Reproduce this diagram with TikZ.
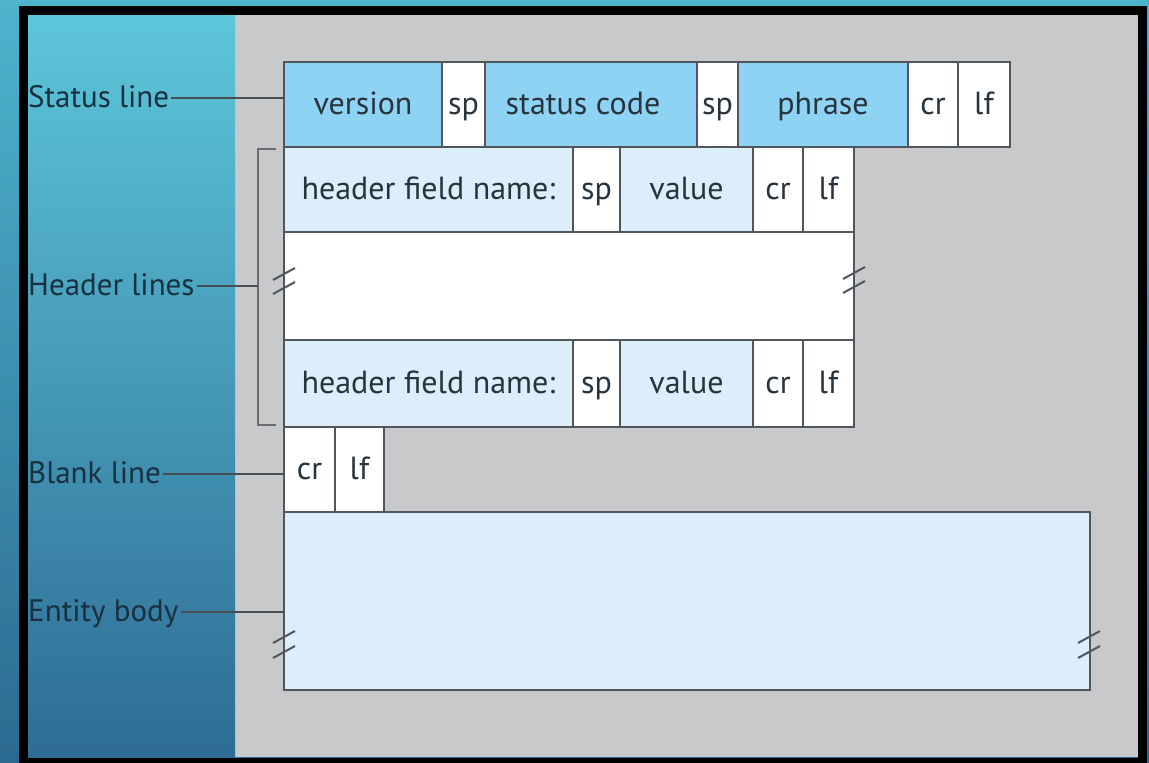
\documentclass[tikz,border=0pt]{standalone}
\usepackage{fontspec}
\setmainfont{PT Sans}
\definecolor{bgtop}{HTML}{4DB4CC}
\definecolor{bgbot}{HTML}{2C6A90}
\definecolor{pantop}{HTML}{5DC6DA}
\definecolor{panbot}{HTML}{2E6C94}
\definecolor{greybg}{HTML}{C8C9CB}
\definecolor{edge}{HTML}{50565B}
\definecolor{sblue}{HTML}{8ED3F4}
\definecolor{lblue}{HTML}{DCEEFA}
\definecolor{txt}{HTML}{28343D}
\definecolor{lbltxt}{HTML}{18303F}
\definecolor{brkc}{HTML}{6A6E72}
\begin{document}
\begin{tikzpicture}[x=1pt,y=-1pt,
  cell/.style={draw=edge, line width=1.8pt, anchor=north west, inner sep=0pt, outer sep=0pt,
    font=\fontsize{32}{36}\selectfont, text=txt, text height=24pt, text depth=5pt},
  lbl/.style={anchor=base west, inner sep=2pt, font=\fontsize{31}{36}\selectfont, text=lbltxt,
    text height=24pt, text depth=6pt},
  lead/.style={draw=edge!90!black, line width=1.6pt},
  brace/.style={draw=brkc, line width=1.6pt},
  brkmark/.style={draw=edge, line width=2pt}]
\useasboundingbox (0,0) rectangle (1149,763);
% backgrounds
\shade[top color=bgtop, bottom color=bgbot] (0,0) rectangle (1149,763);
\fill[greybg] (28,14) rectangle (1138,757);
\shade[top color=pantop, bottom color=panbot] (28,14) rectangle (235,757);
\draw[black, line width=9pt] (23,10) rectangle (1142.5,762);

% status line
\node[cell, fill=sblue, minimum width=158pt, minimum height=85pt] (ver) at (284,62) {version};
\node[cell, fill=white, minimum width=43pt, minimum height=85pt] (sp1) at (ver.north east) {sp};
\node[cell, fill=sblue, minimum width=212pt, minimum height=85pt] (sc) at (sp1.north east) {status code\hspace*{16pt}};
\node[cell, fill=white, minimum width=41pt, minimum height=85pt] (sp2) at (sc.north east) {sp};
\node[cell, fill=sblue, minimum width=170pt, minimum height=85pt] (ph) at (sp2.north east) {phrase};
\node[cell, fill=white, minimum width=50pt, minimum height=85pt] (cr1) at (ph.north east) {cr};
\node[cell, fill=white, minimum width=52pt, minimum height=85pt] (lf1) at (cr1.north east) {lf};

% header line 1
\node[cell, fill=lblue, minimum width=289pt, minimum height=85pt] (h1n) at (ver.south west) {header field name:};
\node[cell, fill=white, minimum width=47pt, minimum height=85pt] (h1s) at (h1n.north east) {sp};
\node[cell, fill=lblue, minimum width=133pt, minimum height=85pt] (h1v) at (h1s.north east) {value};
\node[cell, fill=white, minimum width=50pt, minimum height=85pt] (h1c) at (h1v.north east) {cr};
\node[cell, fill=white, minimum width=51pt, minimum height=85pt] (h1l) at (h1c.north east) {lf};

% gap box
\node[cell, fill=white, minimum width=570pt, minimum height=108pt] (gap) at (h1n.south west) {};

% header line 2
\node[cell, fill=lblue, minimum width=289pt, minimum height=87pt] (h2n) at (gap.south west) {header field name:};
\node[cell, fill=white, minimum width=47pt, minimum height=87pt] (h2s) at (h2n.north east) {sp};
\node[cell, fill=lblue, minimum width=133pt, minimum height=87pt] (h2v) at (h2s.north east) {value};
\node[cell, fill=white, minimum width=50pt, minimum height=87pt] (h2c) at (h2v.north east) {cr};
\node[cell, fill=white, minimum width=51pt, minimum height=87pt] (h2l) at (h2c.north east) {lf};

% blank line
\node[cell, fill=white, minimum width=51pt, minimum height=85pt] (bcr) at (h2n.south west) {cr};
\node[cell, fill=white, minimum width=49pt, minimum height=85pt] (blf) at (bcr.north east) {lf};

% entity body
\node[cell, fill=lblue, minimum width=806pt, minimum height=178pt] (body) at (bcr.south west) {};

% break marks
\draw[brkmark] (273,280) -- (295,268);
\draw[brkmark] (273,294) -- (295,282);
\draw[brkmark] (843,279) -- (865,267);
\draw[brkmark] (843,293) -- (865,281);
\draw[brkmark] (273,643) -- (295,631);
\draw[brkmark] (273,658) -- (295,646);
\draw[brkmark] (1078,643) -- (1100,631);
\draw[brkmark] (1078,658) -- (1100,646);

% bracket for header lines
\coordinate (bt) at (276,149);
\coordinate (bb) at (276,425);
\coordinate (bx) at (258,288);
\draw[brace] (bt) -- (bt -| bx) -- (bb -| bx) -- (bb);

% labels
\node[lbl] (sl) at (26,107) {Status line};
\node[lbl] (hl) at (26,295) {Header lines};
\node[lbl] (bl) at (26,483) {Blank line};
\node[lbl] (eb) at (26,621) {Entity body};

\draw[lead] (sl.east) -- (sl.east -| ver.west);
\draw[lead] (hl.east) -- (hl.east -| bx);
\draw[lead] (bl.east) -- (bl.east -| bcr.west);
\draw[lead] (eb.east) -- (eb.east -| body.west);
\end{tikzpicture}
\end{document}
